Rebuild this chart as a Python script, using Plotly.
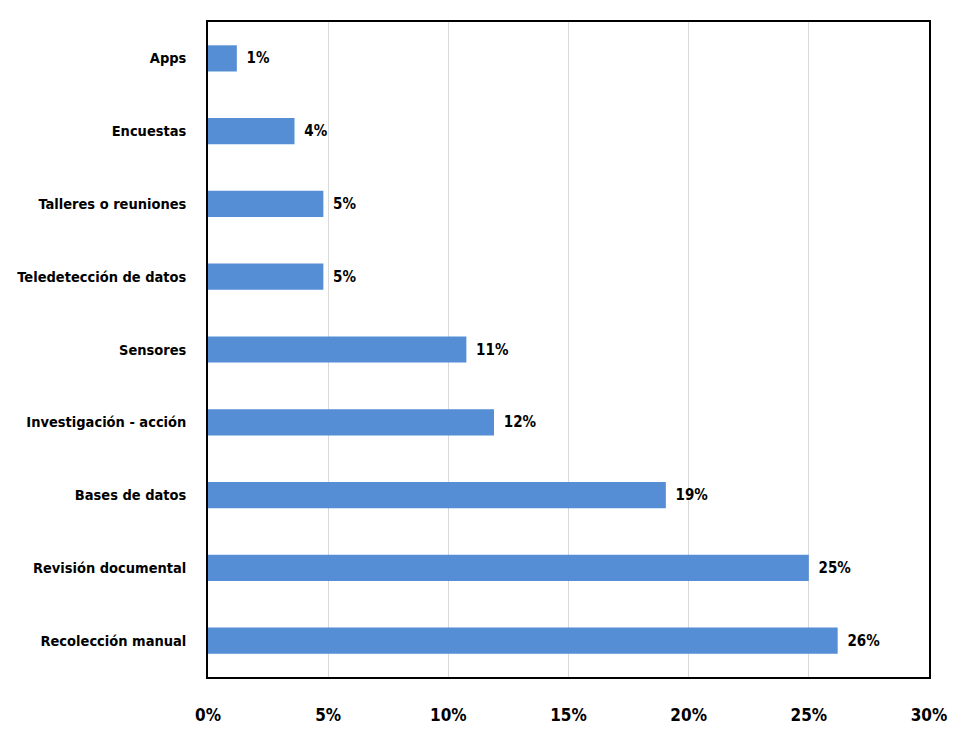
import plotly.graph_objects as go

categories = ["Recolección manual", "Revisión documental", "Bases de datos",
              "Investigación - acción", "Sensores", "Teledetección de datos",
              "Talleres o reuniones", "Encuestas", "Apps"]
values = [26.2, 25.0, 19.05, 11.9, 10.75, 4.8, 4.8, 3.6, 1.2]
labels = ["26%", "25%", "19%", "12%", "11%", "5%", "5%", "4%", "1%"]
tick_vals = [0, 5, 10, 15, 20, 25, 30]
tick_text = ["0%", "5%", "10%", "15%", "20%", "25%", "30%"]

FONT = "DejaVu Sans Condensed, sans-serif"

fig = go.Figure(go.Bar(
    x=values, y=categories, orientation="h",
    marker=dict(color="#558ED5", line=dict(width=0)),
    text=["\u2002" + t for t in labels], textposition="outside", cliponaxis=False,
    textfont=dict(family=FONT, size=15, color="#000000", weight="bold"),
    width=0.36,
))

fig.update_layout(
    width=969, height=734,
    margin=dict(l=200, r=48, t=14, b=65, autoexpand=False),
    plot_bgcolor="white", paper_bgcolor="white",
    showlegend=False,
    font=dict(family=FONT, size=15, color="#000000"),
    xaxis=dict(range=[0, 30], tickvals=tick_vals, ticktext=tick_text,
               showgrid=True, gridcolor="#D9D9D9", gridwidth=1, automargin=False,
               zeroline=False, showline=True, linecolor="black", linewidth=1.5,
               mirror=True, ticks="", ticklabelstandoff=22,
               tickfont=dict(family=FONT, size=17, color="black", weight="bold")),
    yaxis=dict(categoryorder="array", categoryarray=categories,
               range=[-0.5, 8.5], automargin=False,
               showgrid=False, zeroline=False, showline=True, linecolor="black",
               linewidth=1.5, mirror=True, ticks="", ticklabelstandoff=17,
               tickfont=dict(family=FONT, size=14.5, color="black", weight="bold")),
)

fig.write_html("out.html")
